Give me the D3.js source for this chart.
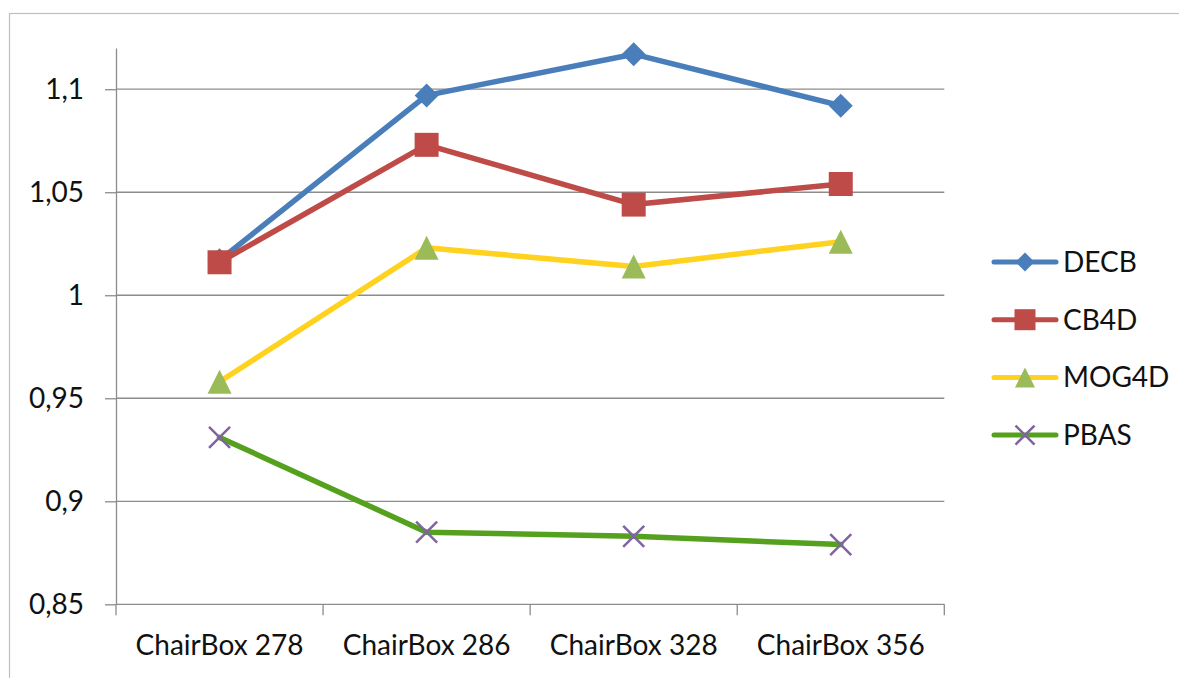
<!DOCTYPE html>
<html>
<head>
<meta charset="utf-8">
<script src="https://cdn.jsdelivr.net/npm/d3@7"></script>
<style>
  html, body { margin: 0; padding: 0; background: #fff; }
  svg { display: block; }
  text { font-family: Lato, "Open Sans", sans-serif; fill: #111; }
</style>
</head>
<body>
<svg id="chart" width="1179" height="678"></svg>
<script>
// Categories along the x axis
const categories = ["ChairBox 278", "ChairBox 286", "ChairBox 328", "ChairBox 356"];

// Series values, one per category
const decb  = [1.017, 1.097, 1.117, 1.092];
const cb4d  = [1.016, 1.073, 1.044, 1.054];
const mog4d = [0.958, 1.023, 1.014, 1.026];
const pbas  = [0.931, 0.885, 0.883, 0.879];

// Y axis tick values
const yTicks = [0.85, 0.9, 0.95, 1, 1.05, 1.1];

const seriesNames = ["DECB", "CB4D", "MOG4D", "PBAS"];
const seriesValues = [decb, cb4d, mog4d, pbas];

const styles = {
  DECB:  { line: "#4A7EBB", marker: "#4A7EBB", shape: "diamond" },
  CB4D:  { line: "#BE4B48", marker: "#BE4B48", shape: "square" },
  MOG4D: { line: "#FFD21F", marker: "#9BBB59", shape: "triangle" },
  PBAS:  { line: "#55A01C", marker: "#8064A2", shape: "cross" }
};

const series = seriesNames.map((name, i) => ({
  name,
  values: seriesValues[i].map((v, j) => ({ cat: categories[j], v }))
}));

const svg = d3.select("#chart");
const plotLeft = 116, plotRight = 944.3, plotTop = 48, plotBottom = 604.3;
const fontSize = 28;

// Outer chart border
svg.append("rect")
  .attr("x", 9.5).attr("y", 13.5)
  .attr("width", 1300).attr("height", 800)
  .attr("fill", "none").attr("stroke", "#BFBFBF").attr("stroke-width", 1.2);

const x = d3.scaleBand().domain(categories).range([plotLeft, plotRight]).padding(0);
const y = d3.scaleLinear().domain([0.85, 1.12]).range([plotBottom, plotTop]);

const axisColor = "#8C8C8C";

// Horizontal gridlines
svg.append("g")
  .selectAll("line")
  .data(yTicks.filter(d => d > 0.85))
  .join("line")
  .attr("x1", plotLeft).attr("x2", plotRight)
  .attr("y1", d => y(d)).attr("y2", d => y(d))
  .attr("stroke", axisColor).attr("stroke-width", 1.3);

// Y axis
const fmt = d => d3.format(".2~f")(d).replace(".", ",");
const yAxis = svg.append("g")
  .attr("transform", `translate(${plotLeft},0)`)
  .call(d3.axisLeft(y).tickValues(yTicks).tickFormat(fmt).tickSize(11).tickPadding(21).tickSizeOuter(0));
yAxis.select(".domain").attr("stroke", axisColor).attr("stroke-width", 1.3);
yAxis.selectAll(".tick line").attr("stroke", axisColor).attr("stroke-width", 1.3);
yAxis.selectAll(".tick text")
  .attr("font-family", "Lato, sans-serif").attr("font-size", fontSize).attr("fill", "#111");

// X axis line with ticks at category boundaries
const xg = svg.append("g");
xg.append("line")
  .attr("x1", plotLeft).attr("x2", plotRight)
  .attr("y1", plotBottom).attr("y2", plotBottom)
  .attr("stroke", axisColor).attr("stroke-width", 1.3);
const bounds = categories.map(c => x(c)).concat([x.range()[1]]);
xg.selectAll("line.tk")
  .data(bounds)
  .join("line")
  .attr("class", "tk")
  .attr("x1", d => d).attr("x2", d => d)
  .attr("y1", plotBottom).attr("y2", plotBottom + 11)
  .attr("stroke", axisColor).attr("stroke-width", 1.3);
xg.selectAll("text")
  .data(categories)
  .join("text")
  .attr("x", d => x(d) + x.bandwidth() / 2)
  .attr("y", 655)
  .attr("text-anchor", "middle")
  .attr("font-size", fontSize)
  .text(d => d);

// Marker shapes
function markerPath(shape, s) {
  const h = s / 2;
  switch (shape) {
    case "diamond": return `M0,${-h}L${h},0L0,${h}L${-h},0Z`;
    case "square": return `M${-h},${-h}H${h}V${h}H${-h}Z`;
    case "triangle": return `M0,${-h}L${h},${h}H${-h}Z`;
    case "cross": return `M${-h},${-h}L${h},${h}M${h},${-h}L${-h},${h}`;
  }
}
function drawMarker(g, shape, color, s) {
  const p = g.append("path").attr("d", markerPath(shape, s));
  if (shape === "cross") {
    p.attr("fill", "none").attr("stroke", color).attr("stroke-width", 2.5);
  } else {
    p.attr("fill", color);
  }
}

const line = d3.line()
  .x(d => x(d.cat) + x.bandwidth() / 2)
  .y(d => y(d.v));

const markerSize = { diamond: 24, square: 24, triangle: 24, cross: 21 };

series.forEach(s => {
  const st = styles[s.name];
  const g = svg.append("g");
  g.append("path")
    .attr("d", line(s.values))
    .attr("fill", "none")
    .attr("stroke", st.line)
    .attr("stroke-width", 5.5)
    .attr("stroke-linejoin", "round")
    .attr("stroke-linecap", "round");
  s.values.forEach(d => {
    const mg = g.append("g")
      .attr("transform", `translate(${x(d.cat) + x.bandwidth() / 2},${y(d.v)})`);
    drawMarker(mg, st.shape, st.marker, markerSize[st.shape]);
  });
});

// Legend
const legendTop = 262, legendStep = 57.7;
const lg = svg.append("g");
seriesNames.forEach((name, i) => {
  const st = styles[name];
  const ly = legendTop + i * legendStep;
  lg.append("line")
    .attr("x1", 994).attr("x2", 1056)
    .attr("y1", ly).attr("y2", ly)
    .attr("stroke", st.line).attr("stroke-width", 5)
    .attr("stroke-linecap", "round");
  const mg = lg.append("g").attr("transform", `translate(1025,${ly})`);
  const ls = { diamond: 19, square: 21, triangle: 20, cross: 19 }[st.shape];
  drawMarker(mg, st.shape, st.marker, ls);
  lg.append("text")
    .attr("x", 1063).attr("y", ly)
    .attr("dy", "0.36em")
    .attr("font-size", fontSize)
    .text(name);
});
</script>
</body>
</html>
